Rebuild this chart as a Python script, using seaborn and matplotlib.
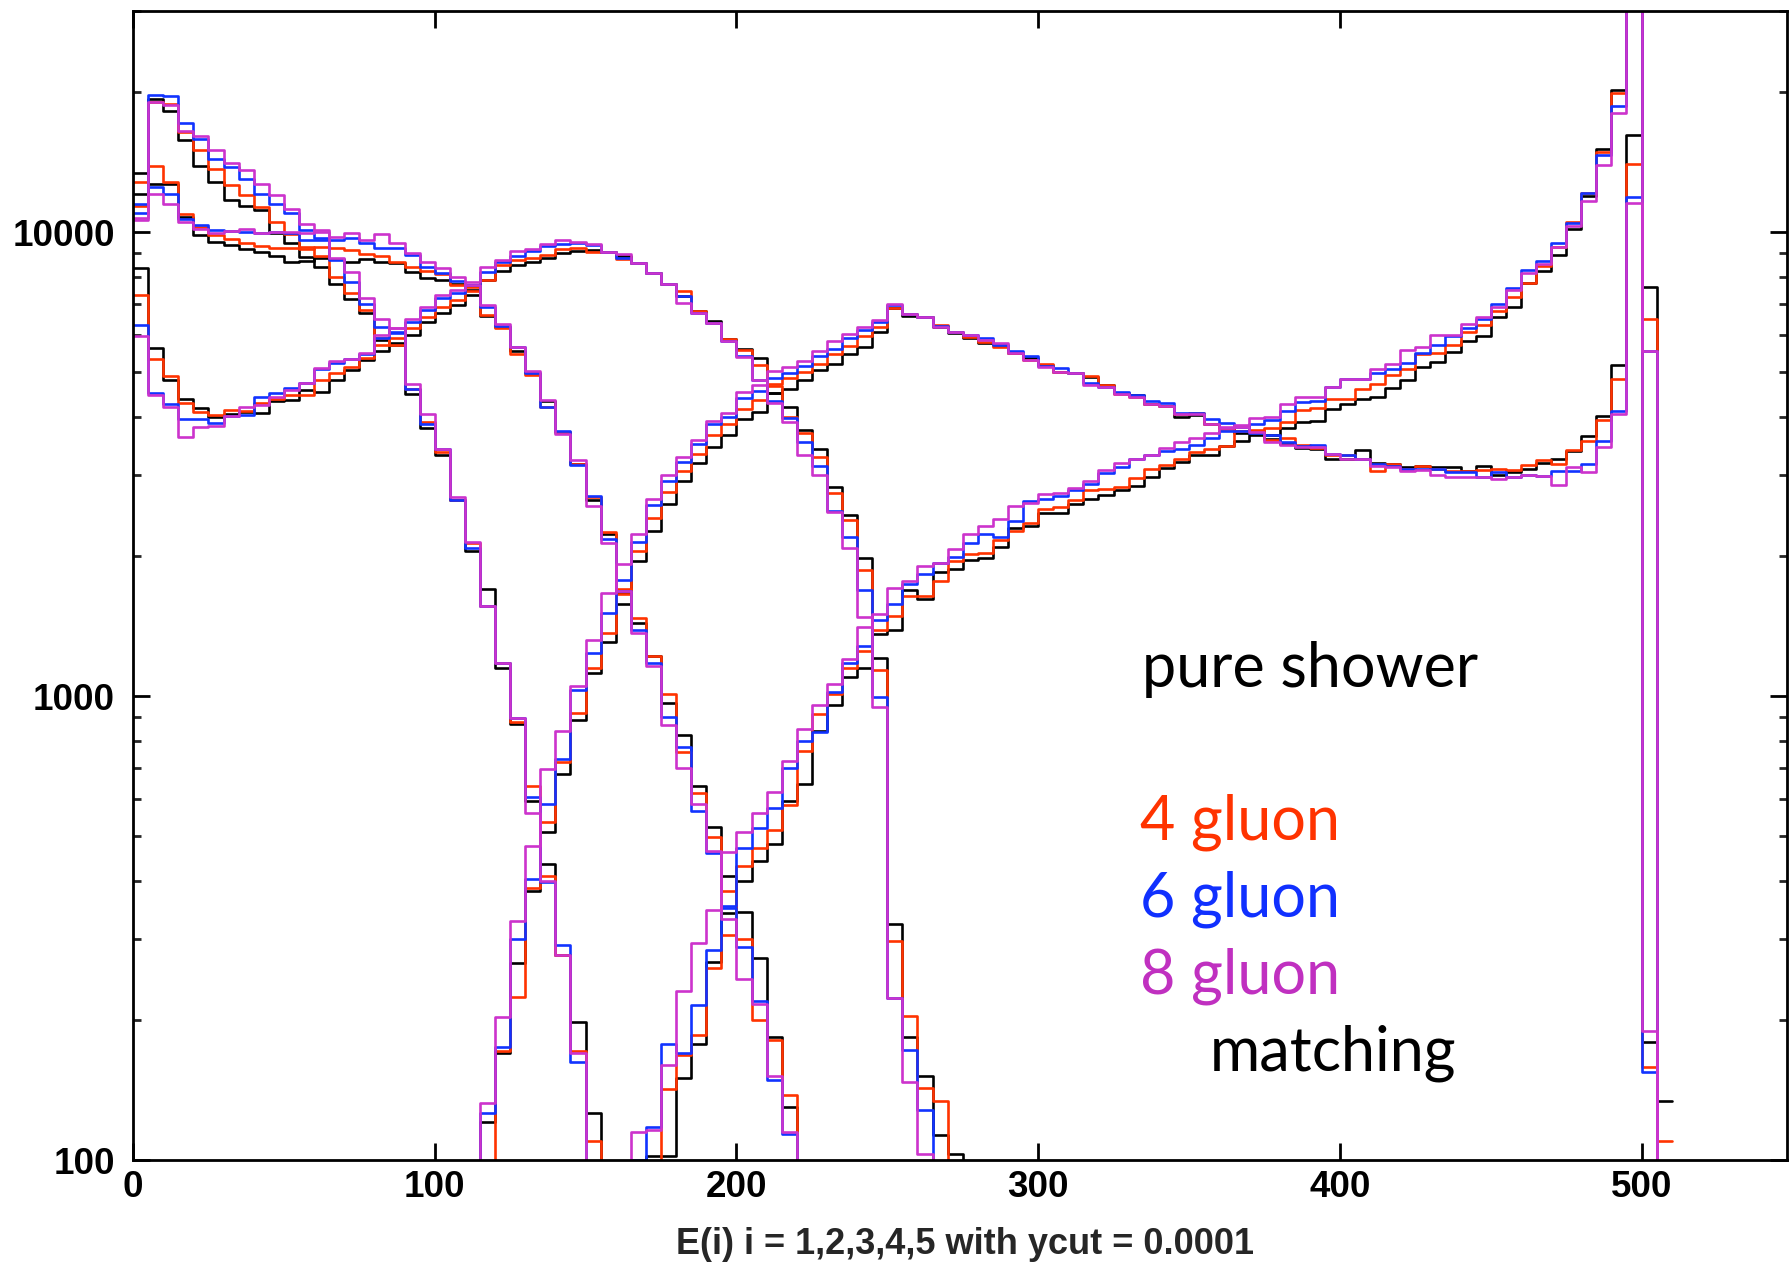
import numpy as np
import pandas as pd
import matplotlib
matplotlib.use("Agg")
import matplotlib.pyplot as plt
import seaborn as sns
from matplotlib.ticker import FixedLocator, LogLocator, NullFormatter, FuncFormatter

# ---- binning (GeV) ----
bin_width = 5
edges = np.arange(0, 515, bin_width)
centers = edges[:-1] + bin_width / 2

# first lower bin edge of each jet-energy histogram
start_e1 = 165
start_e2 = 115
start_e3 = 0
start_e4 = 0
start_e5 = 0

# ---- E1 (hardest jet) ----
e1_shower = [60, 102, 102, 150, 178, 267, 340, 400, 440, 480, 595, 646, 842, 958, 1100, 1150, 1360, 1390,
             1690, 1620, 1850, 1880, 1960, 1980, 2100, 2300, 2330, 2480, 2480, 2590, 2660, 2710, 2780, 2830,
             2970, 3100, 3190, 3300, 3300, 3460, 3540, 3660, 3660, 3780, 3900, 3920, 4150, 4250, 4360, 4420,
             4620, 4800, 5120, 5240, 5510, 5820, 5980, 6560, 6880, 7750, 8240, 8920, 10150, 11970, 15080,
             20240, 90000, 7600, 134]
e1_4gluon = [60, 95, 142, 168, 186, 259, 306, 430, 470, 515, 583, 760, 914, 1010, 1150, 1250, 1390, 1490,
             1640, 1640, 1770, 1950, 2020, 2030, 2170, 2270, 2360, 2530, 2560, 2650, 2780, 2800, 2820, 2950,
             3080, 3140, 3240, 3350, 3400, 3460, 3720, 3720, 3780, 3900, 4140, 4180, 4370, 4370, 4590, 4710,
             4910, 5060, 5450, 5490, 5700, 6090, 6310, 6750, 7240, 7750, 8470, 9270, 10490, 12150, 14900,
             19910, 88000, 6490, 110]
e1_6gluon = [100, 118, 178, 170, 216, 283, 353, 470, 520, 575, 700, 800, 835, 1020, 1180, 1280, 1460, 1580,
             1740, 1830, 1940, 1990, 2140, 2240, 2200, 2380, 2630, 2660, 2700, 2780, 2860, 3030, 3110, 3250,
             3300, 3380, 3410, 3470, 3590, 3720, 3720, 3860, 3930, 4120, 4300, 4320, 4630, 4820, 4830, 4980,
             5080, 5210, 5490, 5700, 5960, 6210, 6510, 6990, 7590, 8280, 8650, 9460, 10440, 12110, 14660,
             18700, 85000, 5540, 60]
e1_8gluon = [115, 116, 160, 231, 293, 345, 462, 510, 560, 620, 723, 850, 955, 1060, 1200, 1410, 1500, 1710,
             1770, 1910, 1940, 2070, 2240, 2330, 2410, 2570, 2610, 2720, 2740, 2810, 2910, 3070, 3180, 3250,
             3300, 3430, 3530, 3590, 3690, 3790, 3830, 3980, 4000, 4250, 4410, 4420, 4630, 4820, 4830, 5080,
             5190, 5560, 5640, 5990, 5990, 6340, 6560, 6880, 7500, 8180, 8540, 9300, 10320, 11660, 13960,
             18020, 80000, 5540, 60]

# ---- E2 ----
e2_shower = [121, 170, 266, 380, 510, 680, 890, 1120, 1310, 1580, 1950, 2270, 2600, 2900, 3180, 3450, 3650,
             3950, 4100, 4500, 4600, 4800, 5050, 5200, 5450, 5650, 6100, 6850, 6600, 6550, 6250, 6050, 5900,
             5780, 5700, 5500, 5350, 5170, 5000, 4980, 4870, 4680, 4500, 4460, 4250, 4210, 4000, 4030, 3860,
             3780, 3680, 3720, 3580, 3500, 3430, 3400, 3250, 3250, 3390, 3180, 3160, 3110, 3130, 3120, 3110,
             3060, 3130, 2990, 3040, 3080, 3180, 3250, 3370, 3630, 4010, 5170, 16200, 180]
e2_4gluon = [95, 172, 225, 385, 535, 720, 920, 1150, 1370, 1660, 2050, 2420, 2750, 3050, 3330, 3650, 3850,
             4150, 4350, 4700, 4850, 5000, 5200, 5450, 5690, 5960, 6240, 6860, 6650, 6550, 6300, 6100, 5950,
             5800, 5650, 5480, 5290, 5200, 5000, 4970, 4900, 4680, 4480, 4420, 4260, 4220, 4060, 4080, 3860,
             3760, 3720, 3740, 3560, 3600, 3470, 3420, 3300, 3300, 3250, 3060, 3170, 3080, 3130, 3080, 3060,
             3060, 3070, 3080, 3070, 3150, 3230, 3170, 3390, 3540, 3940, 4830, 14020, 159]
e2_6gluon = [126, 175, 300, 404, 585, 730, 1030, 1240, 1510, 1780, 2150, 2580, 2900, 3200, 3500, 3850, 4000,
             4380, 4550, 4850, 4980, 5150, 5400, 5600, 5900, 6150, 6400, 6950, 6650, 6570, 6280, 6100, 6000,
             5900, 5700, 5550, 5400, 5150, 5100, 4960, 4720, 4640, 4520, 4450, 4330, 4280, 4070, 4070, 3950,
             3880, 3800, 3690, 3650, 3520, 3460, 3480, 3330, 3300, 3250, 3160, 3130, 3080, 3080, 3090, 3040,
             3040, 2960, 3040, 2970, 3000, 2980, 3060, 3060, 3170, 3550, 4110, 11930, 155]
e2_8gluon = [133, 203, 327, 475, 695, 840, 1050, 1320, 1670, 1930, 2230, 2660, 3000, 3280, 3570, 3920, 4080,
             4530, 4680, 5030, 5110, 5280, 5550, 5830, 6030, 6250, 6450, 7000, 6660, 6550, 6250, 6100, 6000,
             5860, 5760, 5490, 5290, 5130, 5000, 4970, 4680, 4640, 4470, 4420, 4250, 4210, 4060, 4060, 3860,
             3800, 3800, 3710, 3530, 3470, 3450, 3440, 3320, 3250, 3250, 3130, 3120, 3060, 3070, 2990, 2960,
             2960, 2960, 2930, 2970, 3000, 2980, 2850, 3110, 3040, 3440, 4050, 11540, 190]

# ---- E3 ----
e3_shower = [8350, 5630, 4800, 4370, 4170, 3990, 4050, 4090, 4070, 4320, 4340, 4570, 4530, 4800, 5040, 5300,
             5550, 5700, 6000, 6400, 6700, 6950, 7300, 7880, 8250, 8500, 8600, 8800, 9010, 9110, 9150, 9060,
             8870, 8590, 8160, 7720, 7290, 6760, 6420, 5870, 5610, 5340, 4500, 4200, 3750, 3400, 2820, 2460,
             1980, 1210, 323, 184, 152, 113, 103]
e3_4gluon = [7300, 5320, 4900, 4280, 4100, 4030, 4130, 4120, 4280, 4370, 4460, 4460, 4790, 4960, 5110, 5350,
             5700, 5900, 6200, 6550, 6900, 7150, 7450, 7880, 8500, 8700, 8800, 8930, 9180, 9250, 9060, 9060,
             8750, 8590, 8160, 7720, 7470, 6760, 6370, 5870, 5560, 5160, 4650, 4000, 3680, 3270, 2740, 2390,
             1870, 1140, 296, 204, 143, 134, 60]
e3_6gluon = [6290, 4500, 4270, 3950, 3950, 3880, 4010, 4040, 4420, 4490, 4610, 4720, 5070, 5230, 5330, 5450,
             5900, 6100, 6400, 6800, 7200, 7400, 7700, 8200, 8600, 8900, 9100, 9330, 9440, 9480, 9370, 9060,
             8780, 8590, 8160, 7720, 7290, 6690, 6370, 5820, 5410, 4800, 4320, 3980, 3530, 3130, 2500, 2200,
             1690, 996, 223, 173, 128, 60, 40]
e3_8gluon = [5970, 4460, 4200, 3620, 3810, 3820, 4010, 4200, 4240, 4420, 4570, 4730, 5100, 5270, 5320, 5500,
             6000, 6200, 6500, 6900, 7300, 7500, 7800, 8420, 8700, 9100, 9200, 9410, 9630, 9520, 9410, 9060,
             8960, 8590, 8160, 7720, 7030, 6690, 6370, 5820, 5380, 4800, 4280, 3900, 3310, 2990, 2490, 2080,
             1480, 948, 223, 147, 103, 60, 40]

# ---- E4 ----
e4_shower = [13400, 12700, 12700, 10800, 9850, 9530, 9360, 9200, 9050, 8870, 8600, 8650, 8800, 8750, 8600,
             8750, 8600, 8560, 8210, 7950, 7900, 7720, 7500, 6590, 6250, 5540, 4980, 4330, 3700, 3170, 2650,
             2240, 1670, 1440, 1220, 965, 824, 641, 523, 410, 342, 273, 184, 130, 60]
e4_4gluon = [12800, 13900, 12800, 10950, 10260, 9850, 9640, 9480, 9330, 9220, 9260, 9200, 9300, 9220, 9150,
             8990, 8900, 8620, 8420, 8240, 8140, 7700, 7600, 6620, 6200, 5460, 4920, 4200, 3700, 3170, 2680,
             2260, 1700, 1470, 1220, 1010, 757, 617, 496, 380, 300, 200, 181, 138, 60]
e4_6gluon = [11500, 12500, 12100, 10650, 10370, 10100, 10060, 10000, 9930, 10000, 9930, 9610, 9610, 9610, 9690,
             9450, 9220, 9220, 8920, 8420, 8170, 7830, 7700, 6900, 6280, 5660, 4960, 4200, 3720, 3140, 2700,
             2180, 1680, 1390, 1180, 903, 775, 566, 459, 350, 288, 220, 149, 114, 60]
e4_8gluon = [10700, 12100, 11500, 10500, 10160, 9960, 10060, 10130, 9960, 10000, 10000, 9930, 10090, 9770, 9930,
             9610, 9900, 9450, 9020, 8630, 8350, 8010, 7700, 6960, 6330, 5660, 5010, 4350, 3670, 3225, 2563,
             2135, 1680, 1366, 1160, 868, 699, 584, 463, 330, 245, 217, 152, 115, 60]

# ---- E5 (softest jet) ----
e5_shower = [12100, 19400, 18200, 15800, 13900, 12800, 11700, 11400, 11150, 9930, 9450, 8840, 8420, 7730, 7160,
             6680, 5850, 5760, 4480, 3780, 3300, 2650, 2050, 1700, 1150, 870, 595, 435, 277, 198, 126]
e5_4gluon = [11400, 19100, 18900, 16400, 15000, 13700, 12600, 12000, 11300, 10500, 9900, 9300, 8900, 8000, 7400,
             6800, 5900, 5700, 4600, 3900, 3350, 2650, 2140, 1560, 1180, 880, 640, 410, 277, 172, 110]
e5_6gluon = [10970, 19700, 19600, 17200, 15900, 14400, 13800, 13000, 12100, 11500, 11000, 10100, 9700, 8700,
             7800, 7000, 6250, 6050, 4600, 3850, 3400, 2650, 2080, 1560, 1180, 895, 607, 398, 290, 163, 60]
e5_8gluon = [10600, 19100, 18800, 16500, 16100, 15000, 14100, 13600, 12700, 12000, 11200, 10400, 10000, 8800,
             8200, 7200, 6500, 6200, 4700, 4050, 3400, 2680, 2150, 1560, 1180, 895, 560, 400, 277, 170, 60]

samples = ["pure shower", "4 gluon", "6 gluon", "8 gluon"]
sample_colors = ["#000000", "#ff3300", "#1133ff", "#cc33cc"]
text_colors = ["#000000", "#ff3300", "#1030ff", "#c030c0"]
histograms = {
    "pure shower": [(start_e1, e1_shower), (start_e2, e2_shower), (start_e3, e3_shower),
                    (start_e4, e4_shower), (start_e5, e5_shower)],
    "4 gluon": [(start_e1, e1_4gluon), (start_e2, e2_4gluon), (start_e3, e3_4gluon),
                (start_e4, e4_4gluon), (start_e5, e5_4gluon)],
    "6 gluon": [(start_e1, e1_6gluon), (start_e2, e2_6gluon), (start_e3, e3_6gluon),
                (start_e4, e4_6gluon), (start_e5, e5_6gluon)],
    "8 gluon": [(start_e1, e1_8gluon), (start_e2, e2_8gluon), (start_e3, e3_8gluon),
                (start_e4, e4_8gluon), (start_e5, e5_8gluon)],
}


def bin_table(start, values):
    """Place a histogram that begins at `start` into the common binning."""
    counts = np.zeros(len(centers))
    i0 = int(round(start / bin_width))
    counts[i0:i0 + len(values)] = values
    return pd.DataFrame({"energy": centers, "events": counts})


sns.set_style("white")
plt.rcParams["font.family"] = ["Liberation Sans", "DejaVu Sans"]

W, H = 1789, 1270
fig = plt.figure(figsize=(W / 100, H / 100), dpi=100)
ax = fig.add_axes([133 / W, (H - 1160) / H, (1787 - 133) / W, (1160 - 10.7) / H])
ax.set_yscale("log")

bin_edges = [float(e) for e in edges]
for name, color in zip(samples, sample_colors):
    for start, values in histograms[name]:
        sns.histplot(data=bin_table(start, values), x="energy", weights="events", bins=bin_edges,
                     element="step", fill=False, color=color, linewidth=1.9,
                     ax=ax)

ax.set_xlim(0, 548.2)
ax.set_ylim(100, 30000)

# axes frame and ticks
for side in ["left", "right", "top", "bottom"]:
    ax.spines[side].set_visible(True)
    ax.spines[side].set_linewidth(2.0)
    ax.spines[side].set_color("black")

ax.xaxis.set_major_locator(FixedLocator([0, 100, 200, 300, 400, 500]))
ax.xaxis.set_minor_locator(FixedLocator([]))
ax.yaxis.set_major_locator(FixedLocator([100, 1000, 10000]))
ax.yaxis.set_minor_locator(LogLocator(base=10, subs=np.arange(2, 10)))
ax.yaxis.set_minor_formatter(NullFormatter())
ax.yaxis.set_major_formatter(FuncFormatter(lambda v, _: f"{v:.0f}"))

ax.tick_params(axis="both", which="major", direction="in", length=12, width=2.0,
               top=True, right=True, bottom=True, left=True,
               labelsize=26.5, colors="black")
ax.tick_params(axis="y", which="minor", direction="in", length=6, width=2.0,
               left=True, right=True)
ax.tick_params(axis="x", which="major", pad=7)
ax.tick_params(axis="y", which="major", pad=13)
for lab in ax.get_xticklabels() + ax.get_yticklabels():
    lab.set_fontweight("bold")

ax.set_ylabel("")
ax.set_xlabel("E(i) i = 1,2,3,4,5 with ycut = 0.0001", fontsize=26, fontweight="bold")
ax.xaxis.label.set_verticalalignment("center")
ax.xaxis.set_label_coords(0.503, -0.0731)

# sample labels
label_font = ["Lato", "DejaVu Sans"]
fig.text(1142 / W, 1 - 669 / H, "pure shower", color=text_colors[0], fontsize=44,
         family=label_font, ha="left", va="center")
fig.text(1140 / W, 1 - 822 / H, "4 gluon", color=text_colors[1], fontsize=44,
         family=label_font, ha="left", va="center")
fig.text(1140 / W, 1 - 899 / H, "6 gluon", color=text_colors[2], fontsize=44,
         family=label_font, ha="left", va="center")
fig.text(1140 / W, 1 - 976 / H, "8 gluon", color=text_colors[3], fontsize=44,
         family=label_font, ha="left", va="center")
fig.text(1210 / W, 1 - 1053 / H, "matching", color=text_colors[0], fontsize=44,
         family=label_font, ha="left", va="center")

fig.savefig("out.png", dpi=100)
